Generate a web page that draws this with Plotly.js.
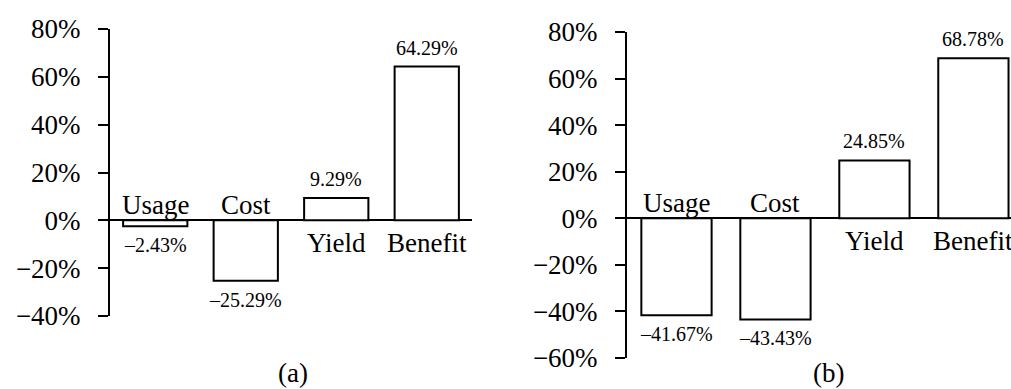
<!DOCTYPE html>
<html><head><meta charset="utf-8">
<script src="https://cdn.plot.ly/plotly-3.0.1.min.js"></script>
<style>html,body{margin:0;padding:0;background:#fff}</style>
</head><body>
<div id="chart" style="width:1011px;height:389px"></div>
<script>
const categories = ["Usage", "Cost", "Yield", "Benefit"];
const valuesA = [-2.43, -25.29, 9.29, 64.29];
const valuesB = [-41.67, -43.43, 24.85, 68.78];
const panelLabels = ["(a)", "(b)"];

const FONT = "'Liberation Serif', 'Times New Roman', serif";

function barTrace(vals, xa, ya) {
  return {
    type: "bar", x: categories, y: vals, xaxis: xa, yaxis: ya,
    width: 0.71,
    marker: {color: "#ffffff", line: {color: "#000000", width: 2}},
    hoverinfo: "skip", showlegend: false
  };
}

function fmt(v) {
  return (v < 0 ? "\u2013" : "") + Math.abs(v).toFixed(2) + "%";
}

const annotations = [];
function addLabels(vals, xa, ya) {
  vals.forEach((v, i) => {
    annotations.push({
      xref: xa, yref: ya, x: categories[i], y: v, text: fmt(v),
      showarrow: false, yanchor: "middle", yshift: v >= 0 ? 19 : -19,
      font: {family: FONT, size: 20, color: "#000"}
    });
    annotations.push({
      xref: xa, yref: ya, x: categories[i], y: 0, text: categories[i],
      showarrow: false, yanchor: "middle", yshift: v < 0 ? 15 : -23,
      font: {family: FONT, size: 27, color: "#000"}
    });
  });
}
addLabels(valuesA, "x", "y");
addLabels(valuesB, "x2", "y2");

annotations.push({xref: "paper", yref: "paper", x: 293/1011, y: 1 - 373/389, text: panelLabels[0],
  showarrow: false, xanchor: "center", yanchor: "middle", font: {family: FONT, size: 27, color: "#000"}});
annotations.push({xref: "paper", yref: "paper", x: 828/1011, y: 1 - 373/389, text: panelLabels[1],
  showarrow: false, xanchor: "center", yanchor: "middle", font: {family: FONT, size: 27, color: "#000"}});

function yaxis(range, domain, anchor) {
  return {
    range: range, domain: domain, anchor: anchor, dtick: 20, ticksuffix: "%",
    showgrid: false, zeroline: true, zerolinecolor: "#000", zerolinewidth: 2,
    showline: true, linecolor: "#000", linewidth: 2,
    ticks: "outside", ticklen: 10, tickwidth: 2, tickcolor: "#000",
    ticklabelstandoff: 12,
    tickfont: {family: FONT, size: 27, color: "#000"}, fixedrange: true
  };
}
function xaxis(range, domain, anchor) {
  return {
    range: range, domain: domain, anchor: anchor, showticklabels: false,
    showgrid: false, zeroline: false, showline: false, ticks: "", fixedrange: true
  };
}

const layout = {
  width: 1011, height: 389,
  margin: {l: 0, r: 0, t: 0, b: 0},
  font: {family: FONT, size: 27, color: "#000"},
  paper_bgcolor: "#fff", plot_bgcolor: "rgba(0,0,0,0)",
  xaxis: xaxis([-0.5, 3.5], [110/1011, 472/1011], "y"),
  yaxis: yaxis([-40, 80], [1 - 316/389, 1 - 29/389], "x"),
  xaxis2: xaxis([-0.5, 3.38], [627/1011, 1], "y2"),
  yaxis2: yaxis([-60, 80], [1 - 358/389, 1 - 32/389], "x2"),
  annotations: annotations,
  bargap: 0.29
};

Plotly.newPlot("chart", [barTrace(valuesA, "x", "y"), barTrace(valuesB, "x2", "y2")], layout,
  {staticPlot: true, displayModeBar: false});
</script>
</body></html>
